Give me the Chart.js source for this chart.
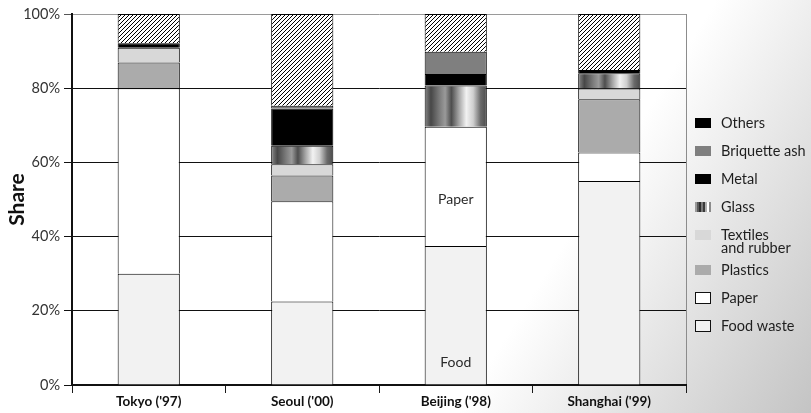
<!DOCTYPE html>
<html>
<head>
<meta charset="utf-8">
<script src="https://cdn.jsdelivr.net/npm/chart.js@4/dist/chart.umd.min.js"></script>
<style>
  html, body { margin: 0; padding: 0; }
  body {
    width: 811px; height: 413px; overflow: hidden;
    background: linear-gradient(122deg, #ffffff 0%, #ffffff 67%, #c4c4c4 100%);
  }
  #c { display: block; }
</style>
</head>
<body>
<canvas id="c" width="811" height="413"></canvas>
<script>
// Municipal solid waste composition (share of total, %)
const cities       = ["Tokyo ('97)", "Seoul ('00)", "Beijing ('98)", "Shanghai ('99)"];
const foodWaste    = [30.0, 22.5, 37.5, 55.0];
const paper        = [50.0, 27.0, 32.1,  7.7];
const plastics     = [ 6.9,  7.0,  0.0, 14.3];
const textiles     = [ 4.0,  3.0,  0.0,  2.9];
const glass        = [ 0.0,  5.0, 11.1,  4.1];
const metal        = [ 1.2, 10.0,  3.1,  0.9];
const briquetteAsh = [ 0.0,  0.8,  6.0,  0.0];
const others       = [ 7.9, 24.7, 10.2, 15.1];
const yTicks       = [0, 20, 40, 60, 80, 100];

// Text written inside the Beijing bar: [category index, text, value]
const barNotes = [[2, 'Paper', 50], [2, 'Food', 6]];

const BAR_PCT = 0.405;
const FONT = 'Lato';
Chart.defaults.font.family = FONT;

const canvas = document.getElementById('c');
const ctx = canvas.getContext('2d');

// Diagonal hatching for the "Others" segments
function makeHatch() {
  const s = 4;
  const cv = document.createElement('canvas');
  cv.width = s; cv.height = s;
  const g = cv.getContext('2d');
  g.fillStyle = '#ffffff';
  g.fillRect(0, 0, s, s);
  g.strokeStyle = '#000000';
  g.lineWidth = 1.0;
  g.beginPath();
  g.moveTo(0, s); g.lineTo(s, 0);
  g.moveTo(-1, 1); g.lineTo(1, -1);
  g.moveTo(s - 1, s + 1); g.lineTo(s + 1, s - 1);
  g.stroke();
  return ctx.createPattern(cv, 'repeat');
}
const hatch = makeHatch();

// Metallic stripes used for glass
function glassGradient(c2d, x0, x1) {
  const gr = c2d.createLinearGradient(x0, 0, x1, 0);
  gr.addColorStop(0.00, '#8a8a8a');
  gr.addColorStop(0.10, '#474747');
  gr.addColorStop(0.24, '#7c7c7c');
  gr.addColorStop(0.33, '#9a9a9a');
  gr.addColorStop(0.43, '#4e4e4e');
  gr.addColorStop(0.55, '#a4a4a4');
  gr.addColorStop(0.67, '#f2f2f2');
  gr.addColorStop(0.78, '#cfcfcf');
  gr.addColorStop(0.90, '#6a6a6a');
  gr.addColorStop(1.00, '#4a4a4a');
  return gr;
}

function glassFill(c) {
  const chart = c.chart;
  const xs = chart.scales.x;
  if (!xs || !chart.chartArea || c.dataIndex === undefined) return '#888888';
  const cx = xs.getPixelForValue(c.dataIndex);
  const w = xs.width / cities.length * BAR_PCT;
  return glassGradient(chart.ctx, cx - w / 2, cx + w / 2);
}

const nz = arr => arr.map(v => (v === 0 ? null : v));

function seg(label, values, fill, legendFill, legendBorder, lines) {
  return {
    label: label,
    data: nz(values),
    backgroundColor: fill,
    borderColor: '#000000',
    borderWidth: 1,
    barPercentage: BAR_PCT,
    categoryPercentage: 1,
    legendFill: legendFill,
    legendBorder: legendBorder,
    legendLines: lines || [label]
  };
}

const datasets = [
  seg('Food waste', foodWaste, '#f2f2f2', '#f2f2f2', '#111111'),
  seg('Paper', paper, '#ffffff', '#ffffff', '#111111'),
  seg('Plastics', plastics, '#ababab', '#ababab', null),
  seg('Textiles and rubber', textiles, '#d8d8d8', '#d8d8d8', null, ['Textiles', 'and rubber']),
  seg('Glass', glass, glassFill, 'glass', null),
  seg('Metal', metal, '#000000', '#000000', null),
  seg('Briquette ash', briquetteAsh, '#7f7f7f', '#7f7f7f', null),
  seg('Others', others, hatch, '#000000', null)
];

// Legend drawn in the right margin, top item = top of the stack
const sideLegend = {
  id: 'sideLegend',
  afterDraw(chart) {
    const c = chart.ctx;
    const bx = 695, bw = 16, tx = 721;
    let y = 123;
    c.save();
    c.font = '14.5px ' + FONT;
    c.textBaseline = 'middle';
    c.textAlign = 'left';
    const items = chart.data.datasets.slice().reverse();
    items.forEach(ds => {
      const bh = ds.legendBorder ? 12 : 10;
      const top = Math.round(y - bh / 2);
      if (ds.legendFill === 'glass') {
        c.fillStyle = '#ffffff';
        c.fillRect(bx, top, bw, bh);
        const stripes = ['#9a9a9a', '#5a5a5a', '#2e2e2e', '#7a7a7a', '#3a3a3a', '#b0b0b0', '#ffffff', '#8c8c8c'];
        stripes.forEach((col, i) => {
          c.fillStyle = col;
          c.fillRect(bx + i * 2, top, 2, bh);
        });
      } else {
        c.fillStyle = ds.legendFill;
        c.fillRect(bx, top, bw, bh);
      }
      if (ds.legendBorder) {
        c.strokeStyle = ds.legendBorder;
        c.lineWidth = 1;
        c.strokeRect(bx + 0.5, top + 0.5, bw - 1, bh - 1);
      }
      c.fillStyle = '#1e1e1e';
      ds.legendLines.forEach((t, i) => c.fillText(t, tx, y + i * 13));
      y += 28 + (ds.legendLines.length - 1) * 7;
    });
    c.restore();
  }
};

// Words written inside a bar, positioned through the scales
const barText = {
  id: 'barText',
  afterDatasetsDraw(chart) {
    const c = chart.ctx;
    const xs = chart.scales.x, ys = chart.scales.y;
    c.save();
    c.font = '14px ' + FONT;
    c.fillStyle = '#2a2a2a';
    c.textAlign = 'center';
    c.textBaseline = 'middle';
    barNotes.forEach(([i, t, v]) => c.fillText(t, xs.getPixelForValue(i), ys.getPixelForValue(v)));
    c.restore();
  }
};

new Chart(ctx, {
  type: 'bar',
  data: { labels: cities, datasets: datasets },
  plugins: [sideLegend, barText],
  options: {
    responsive: false,
    animation: false,
    layout: { padding: { top: 14, right: 125, left: 0, bottom: 0 } },
    plugins: { legend: { display: false }, tooltip: { enabled: false } },
    scales: {
      x: {
        stacked: true,
        grid: {
          offset: true,
          drawOnChartArea: true,
          color: c => (c.type === 'scale' ? '#8c8c8c' : 'rgba(0,0,0,0)'),
          tickColor: '#1a1a1a',
          tickLength: 8,
          lineWidth: 1
        },
        border: { color: '#111111', width: 2 },
        ticks: {
          color: '#111111',
          font: { family: FONT, size: 13.5, weight: 'bold' },
          padding: 1,
          maxRotation: 0,
          autoSkip: false
        },
        afterFit: s => { s.height = 28; }
      },
      y: {
        stacked: true,
        min: 0,
        max: 100,
        afterBuildTicks: s => { s.ticks = yTicks.map(v => ({ value: v })); },
        grid: {
          color: c => (c.tick && c.tick.value === 100 ? '#9a9a9a' : '#111111'),
          tickColor: c => (c.tick && c.tick.value === 100 ? '#555555' : '#111111'),
          tickLength: 8,
          lineWidth: 1
        },
        border: { color: '#111111', width: 2 },
        ticks: {
          callback: v => v + '%',
          color: '#333333',
          font: { family: FONT, size: 14.5 },
          padding: 4
        },
        title: {
          display: true,
          text: 'Share',
          color: '#111111',
          font: { family: FONT, size: 21, weight: 'bold' },
          padding: { top: 5, bottom: 0 }
        },
        afterFit: s => { s.width = 72; }
      }
    }
  }
});
</script>
</body>
</html>
